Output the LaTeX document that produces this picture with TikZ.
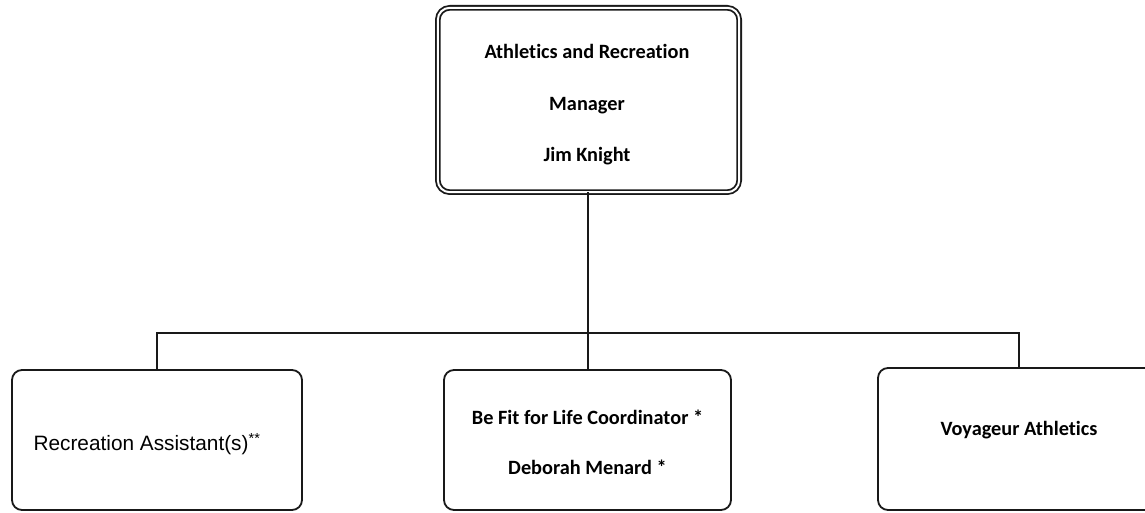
\documentclass[tikz,border=0pt]{standalone}
\usepackage{fontspec}
\setmainfont[Ligatures=CommonOff]{Carlito}
\newfontfamily\arialfont{Liberation Sans}
\begin{document}
\begin{tikzpicture}[x=1pt,y=-1pt,
  orgbox/.style={draw=black!90, line width=1.8pt, rounded corners=10pt,
    inner sep=0pt, outer sep=0pt},
  orgtext/.style={align=center, inner sep=0pt, font=\fontsize{20.3}{50}\selectfont\bfseries},
  conn/.style={draw=black!90, line width=2pt}]
\useasboundingbox (0,0) rectangle (1145,513);
\fill[white] (0,0) rectangle (1145,513);
% boxes
\node[orgbox, double=white, double distance=2pt, rounded corners=12pt,
  minimum width=301.4pt, minimum height=184.4pt] (top) at (588.5,100) {};
\node[orgbox, minimum width=290pt, minimum height=140pt] (left) at (157,440) {};
\node[orgbox, minimum width=287pt, minimum height=140pt] (mid) at (587.5,440) {};
\node[orgbox, minimum width=282pt, minimum height=142pt] (right) at (1019,439) {};
% texts
\node[orgtext, font=\fontsize{20.3}{51.5}\selectfont\bfseries] (topt) at (587,105)
  {Athletics and Recreation\\Manager\\Jim Knight};
\node[orgtext, font=\fontsize{20.8}{24}\selectfont\arialfont] (leftt) at (147,444)
  {Recreation Assistant(s)\textsuperscript{**}};
\node[orgtext] (midt) at (587.5,442.5)
  {Be Fit for Life Coordinator *\\Deborah Menard *};
\node[orgtext] (rightt) at (1019,430) {Voyageur Athletics};
% connectors
\coordinate (busL) at (157,333);
\coordinate (busR) at (1019,333);
\draw[conn] ([xshift=-0.5pt]top.south) -- ([xshift=-0.5pt]top.south |- busL);
\draw[conn] (left.north) |- (busR) -- (right.north);
\draw[conn] (mid.north) -- (mid.north |- busL);
\end{tikzpicture}
\end{document}
